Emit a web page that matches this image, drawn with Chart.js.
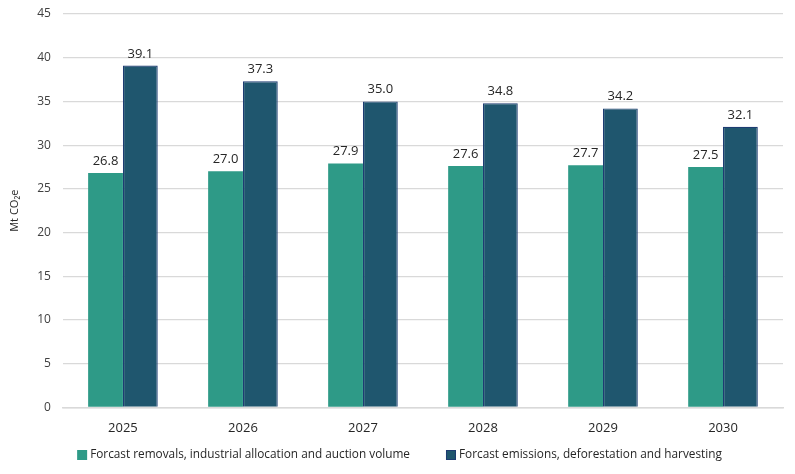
<!DOCTYPE html>
<html><head><meta charset="utf-8">
<script src="https://cdn.jsdelivr.net/npm/chart.js@4/dist/chart.umd.min.js"></script>
<style>html,body{margin:0;padding:0;background:#fff}#wrap{width:795px;height:474px}</style>
</head><body><div id="wrap"><canvas id="c" width="795" height="474"></canvas></div>
<script>
const categories = ['2025','2026','2027','2028','2029','2030'];
const removals = [26.8, 27.0, 27.9, 27.6, 27.7, 27.5];
const emissions = [39.1, 37.3, 35.0, 34.8, 34.2, 32.1];
const seriesNames = ['Forcast removals, industrial allocation and auction volume','Forcast emissions, deforestation and harvesting'];
const FONT = '"Open Sans", "Noto Sans", sans-serif';

const labelPlugin = {
  id: 'valLabels',
  afterDatasetsDraw(chart) {
    const ctx = chart.ctx;
    ctx.save();
    ctx.font = '13px ' + FONT;
    ctx.fillStyle = '#262626';
    ctx.textAlign = 'center';
    ctx.textBaseline = 'alphabetic';
    chart.data.datasets.forEach((ds, i) => {
      chart.getDatasetMeta(i).data.forEach((el, j) => {
        ctx.fillText(ds.data[j].toFixed(1), el.x, el.y - 8);
      });
    });
    ctx.restore();
  }
};

// bottom legend drawn on canvas (Excel-like spacing)
const legendPlugin = {
  id: 'bottomLegend',
  afterDraw(chart) {
    const ctx = chart.ctx;
    ctx.save();
    ctx.font = '11.8px ' + FONT;
    const box = 10, gapBoxText = 3, gapItems = 36;
    const items = chart.data.datasets.map(ds => ({ text: ds.label, color: ds.backgroundColor, border: ds.borderColor, w: ctx.measureText(ds.label).width }));
    let total = items.reduce((s, it) => s + box + gapBoxText + it.w, 0) + gapItems * (items.length - 1);
    let x = (chart.width - total) / 2 + 2;
    const cy = 455;
    items.forEach(it => {
      ctx.fillStyle = it.color;
      ctx.fillRect(x, cy - box / 2, box, box);
      if (it.border) { ctx.strokeStyle = it.border; ctx.lineWidth = 1; ctx.strokeRect(x + 0.5, cy - box / 2 + 0.5, box - 1, box - 1); }
      ctx.fillStyle = '#262626';
      ctx.textAlign = 'left';
      ctx.textBaseline = 'middle';
      ctx.fillText(it.text, x + box + gapBoxText, cy);
      x += box + gapBoxText + it.w + gapItems;
    });
    ctx.restore();
  }
};

new Chart(document.getElementById('c'), {
  type: 'bar',
  data: {
    labels: categories,
    datasets: [
      { label: seriesNames[0], data: removals, backgroundColor: '#2E9A87', borderWidth: 0 },
      { label: seriesNames[1], data: emissions, backgroundColor: '#1F566E', borderColor: '#1D3C72', borderWidth: 1.2 }
    ]
  },
  options: {
    responsive: false,
    animation: false,
    layout: { padding: { left: 4, right: 12, top: 14, bottom: 25 } },
    datasets: { bar: { categoryPercentage: 0.58, barPercentage: 1.0 } },
    scales: {
      x: {
        grid: { display: false, drawTicks: false },
        border: { color: '#D9D9D9', width: 1.5 },
        ticks: { color: '#262626', font: { family: FONT, size: 13 }, padding: 13 }
      },
      y: {
        min: 0, max: 45,
        afterFit(scale) { scale.paddingTop = 0; },
        ticks: { stepSize: 5, color: '#404040', font: { family: FONT, size: 12 }, padding: 12 },
        grid: { color: '#D9D9D9', lineWidth: 1.2, drawTicks: false },
        border: { display: false },
        title: { display: true, text: 'Mt CO₂e', color: '#262626', font: { family: FONT, size: 11 }, padding: { bottom: 4 } }
      }
    },
    plugins: {
      legend: { display: false },
      tooltip: { enabled: false }
    }
  },
  plugins: [labelPlugin, legendPlugin]
});
</script></body></html>
